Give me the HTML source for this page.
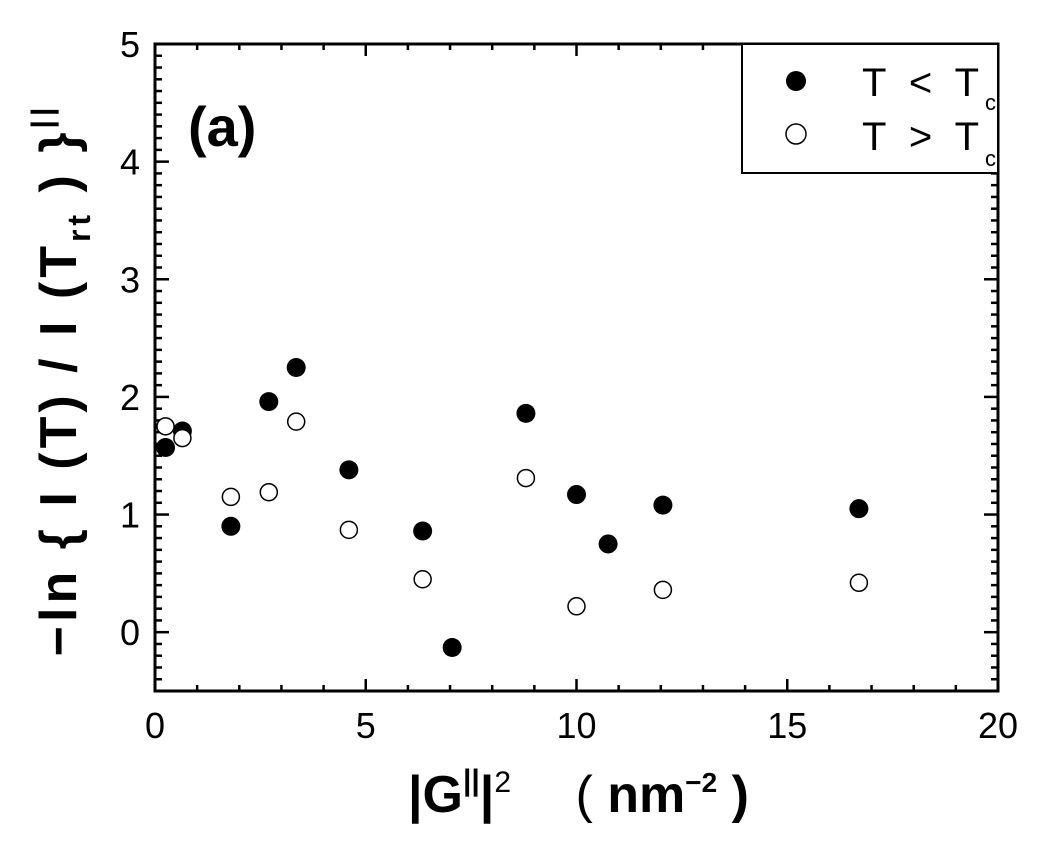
<!DOCTYPE html>
<html><head><meta charset="utf-8"><style>
body{margin:0;background:#fff;}
text{font-family:"Liberation Sans","Noto Sans CJK JP",sans-serif;}
</style></head><body>
<svg id="chart" width="1046" height="836" xmlns="http://www.w3.org/2000/svg">
<g id="axes"></g>
<g id="pts"></g>
<text x="188" y="146" font-size="56" font-weight="bold">(a)</text>
<rect x="742" y="44" width="256" height="129" fill="#fff" stroke="#000" stroke-width="2"/>
<circle cx="796" cy="81" r="10" fill="#000"/>
<text x="862" y="96" font-size="40" letter-spacing="6">T &lt; T<tspan font-size="22" dy="14">c</tspan></text>
<circle cx="796" cy="134" r="10" fill="#fff" stroke="#000" stroke-width="1.5"/>
<text x="862" y="150" font-size="40" letter-spacing="6">T &gt; T<tspan font-size="22" dy="16">c</tspan></text>
<text x="408" y="812" font-size="52" font-weight="bold">|G<tspan font-size="30" dy="-22">||</tspan><tspan dy="22">|</tspan><tspan font-size="30" font-weight="normal" dy="-20">2</tspan><tspan dy="20" font-weight="normal"> </tspan><tspan dx="50" font-weight="normal">(</tspan> nm<tspan font-size="28" dy="-20">−2</tspan><tspan dy="20"> )</tspan></text>
<text transform="translate(76,380) rotate(-90)" text-anchor="middle" font-size="52" font-weight="bold" letter-spacing="4">−ln { I (T) / I (T<tspan font-size="32" dy="14">rt</tspan><tspan dy="-14"> ) }</tspan><tspan font-size="30" dy="-24">||</tspan></text>
</svg>
<script>
const xFilled=[0.25,0.65,1.8,2.7,3.35,4.6,6.35,7.05,8.8,10,10.75,12.05,16.7];
const yFilled=[1.57,1.71,0.9,1.96,2.25,1.38,0.86,-0.13,1.86,1.17,0.75,1.08,1.05];
const xOpen=[0.25,0.65,1.8,2.7,3.35,4.6,6.35,8.8,10,12.05,16.7];
const yOpen=[1.75,1.65,1.15,1.19,1.79,0.87,0.45,1.31,0.22,0.36,0.42];
const xTicks=[0,5,10,15,20];
const yTicks=[0,1,2,3,4,5];
const L=155,R=998,T=44,B=691;
const xs=v=>L+(v-0)/20*(R-L);
const ys=v=>B-(v+0.5)/5.5*(B-T);
const NS="http://www.w3.org/2000/svg";
function mk(tag,at,parent){const e=document.createElementNS(NS,tag);for(const k in at)e.setAttribute(k,at[k]);parent.appendChild(e);return e;}
const ax=document.getElementById('axes');
const fr=mk('rect',{x:L,y:T,width:R-L,height:B-T,fill:'none',stroke:'#000','stroke-width':3},ax);


for(let i=0;i<=20;i++){const x=xs(i);const len=i%5===0?12:6;
 const t1=mk('line',{x1:x,x2:x,y1:B,y2:B-len,stroke:'#000','stroke-width':2.5},ax);
 
 
 const t2=mk('line',{x1:x,x2:x,y1:T,y2:T+len,stroke:'#000','stroke-width':2.5},ax);
 
 }
for(let i=-5;i<=50;i++){const y=ys(i/10);const len=i%10===0?14:7;
 const t1=mk('line',{x1:L,x2:L+len,y1:y,y2:y,stroke:'#000','stroke-width':2.5},ax);
 
 
 const t2=mk('line',{x1:R,x2:R-len,y1:y,y2:y,stroke:'#000','stroke-width':2.5},ax);
 
 }
xTicks.forEach(v=>{const t=mk('text',{x:xs(v),y:738,'font-size':36,'text-anchor':'middle'},ax);t.textContent=v;
 
 });
yTicks.forEach(v=>{const t=mk('text',{x:140,y:ys(v)+13,'font-size':36,'text-anchor':'end'},ax);t.textContent=v;
 
 });
const pg=document.getElementById('pts');
xFilled.forEach((x,i)=>{const c=mk('circle',{cx:xs(x),cy:ys(yFilled[i]),r:9.5,fill:'#000'},pg);
 
 });
xOpen.forEach((x,i)=>{const c=mk('circle',{cx:xs(x),cy:ys(yOpen[i]),r:8.5,fill:'#fff',stroke:'#000','stroke-width':1.5},pg);
 
 });
</script>
</body></html>
